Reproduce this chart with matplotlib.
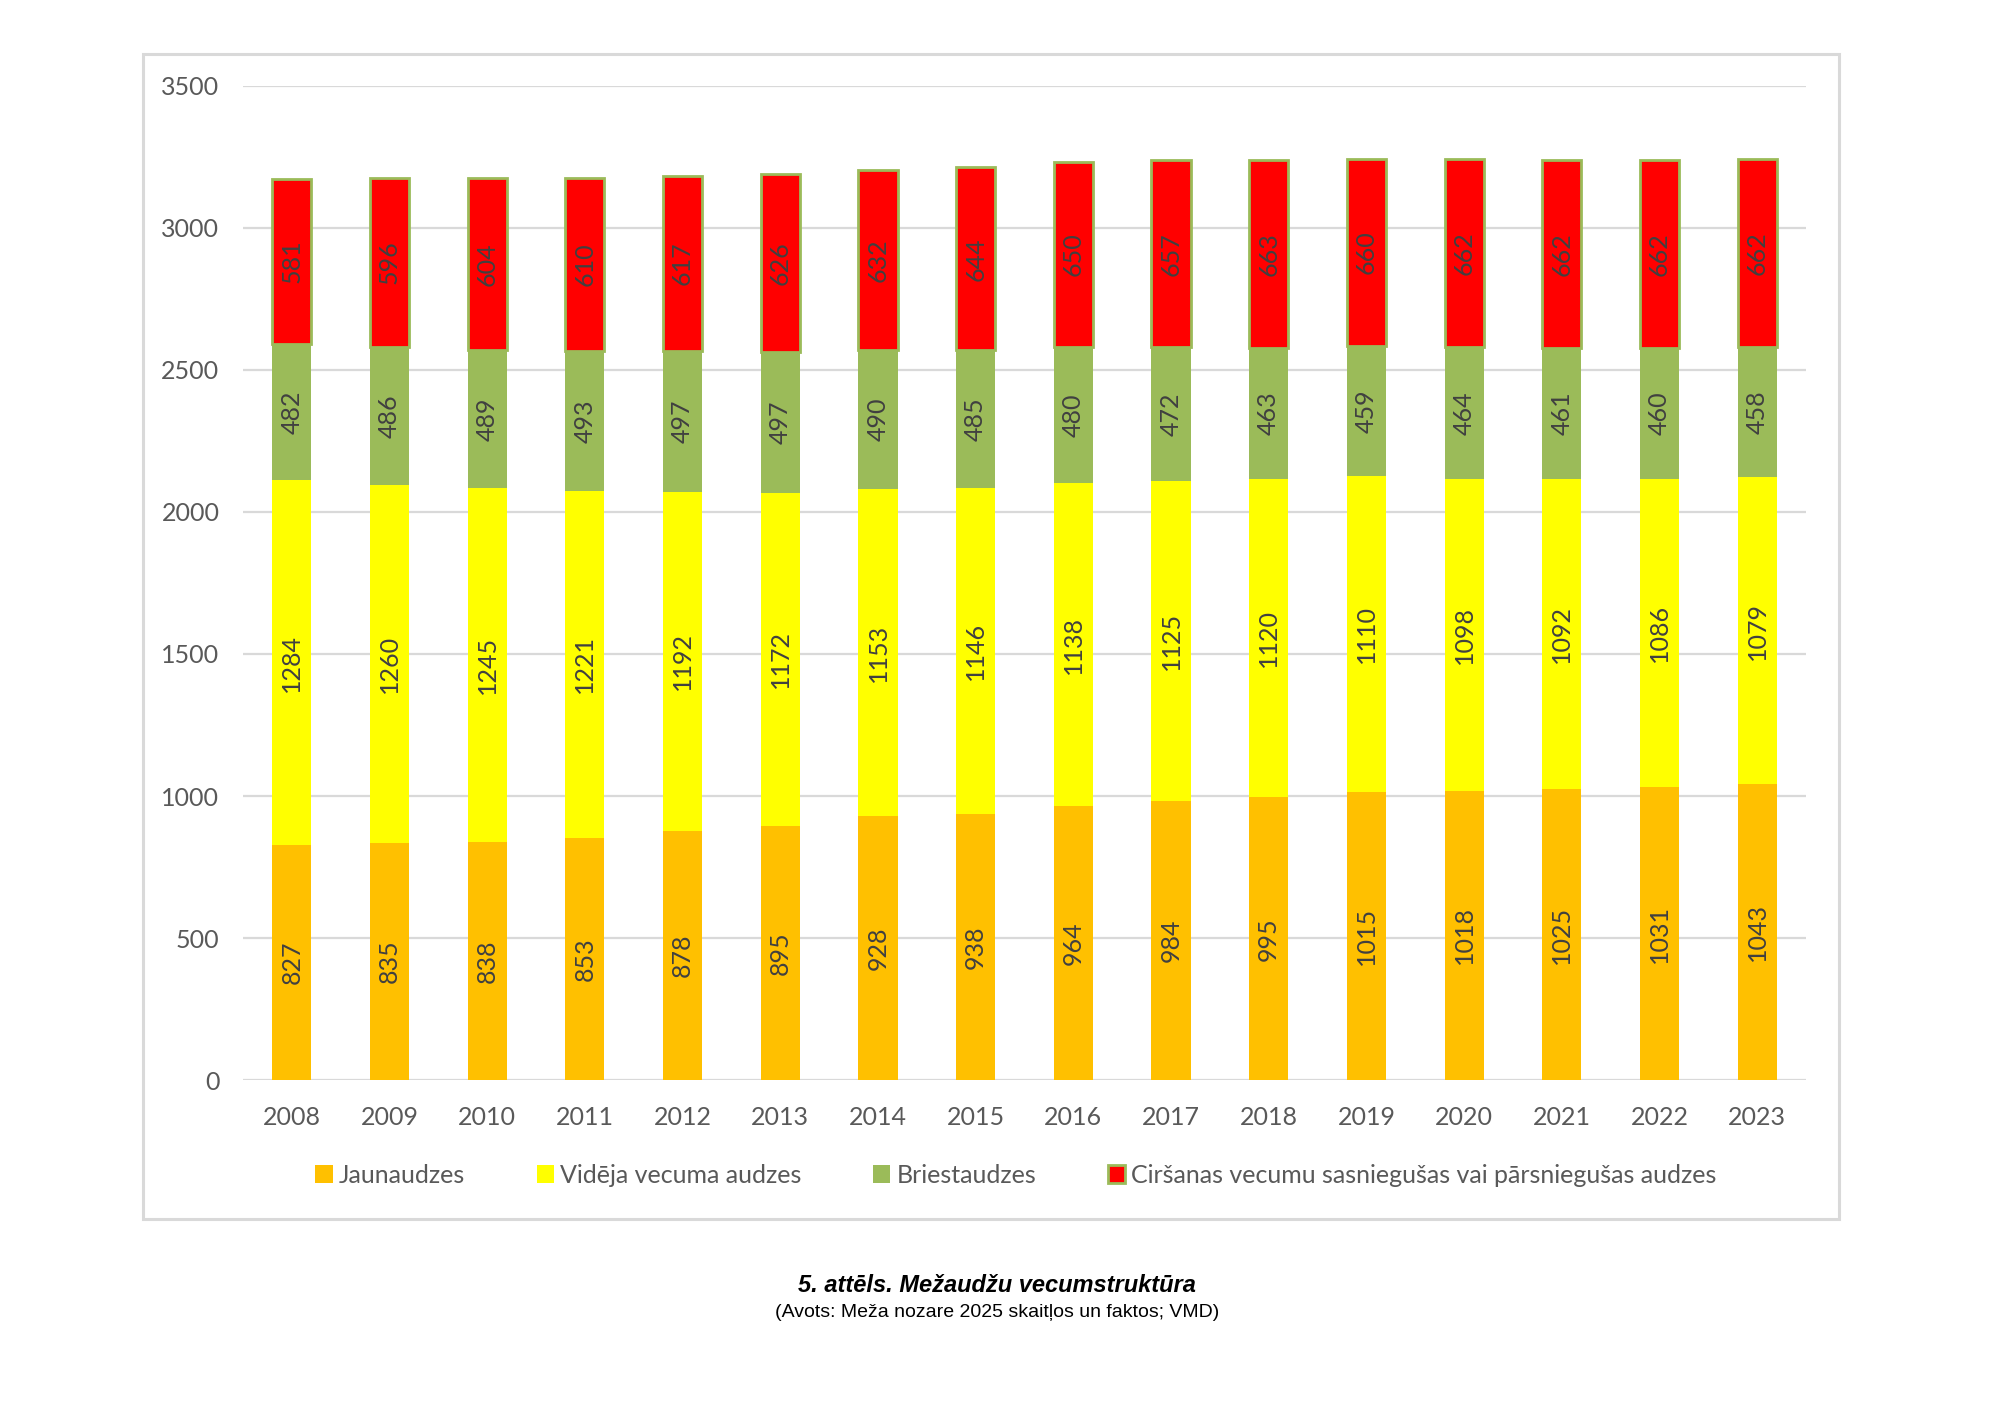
import matplotlib
matplotlib.use("Agg")
import matplotlib.pyplot as plt
from matplotlib.patches import Rectangle
import numpy as np

years = ["2008", "2009", "2010", "2011", "2012", "2013", "2014", "2015",
         "2016", "2017", "2018", "2019", "2020", "2021", "2022", "2023"]
jaun = [827, 835, 838, 853, 878, 895, 928, 938, 964, 984, 995, 1015, 1018, 1025, 1031, 1043]
videja = [1284, 1260, 1245, 1221, 1192, 1172, 1153, 1146, 1138, 1125, 1120, 1110, 1098, 1092, 1086, 1079]
briest = [482, 486, 489, 493, 497, 497, 490, 485, 480, 472, 463, 459, 464, 461, 460, 458]
cirs = [581, 596, 604, 610, 617, 626, 632, 644, 650, 657, 663, 660, 662, 662, 662, 662]

names = ["Jaunaudzes", "Vidēja vecuma audzes", "Briestaudzes",
         "Ciršanas vecumu sasniegušas vai pārsniegušas audzes"]
colors = ["#FFC000", "#FFFF00", "#9BBB59", "#FF0000"]

plt.rcParams['font.family'] = ['Lato', 'DejaVu Sans']

fig = plt.figure(figsize=(20, 14.14), dpi=100)
ax = fig.add_axes([0.1215, 0.2362, 0.7815, 0.703])

x = np.arange(len(years))
bottom = np.zeros(len(years))
handles = []
for vals, name, col in zip([jaun, videja, briest, cirs], names, colors):
    vals = np.array(vals, dtype=float)
    if col == "#FF0000":
        bars = ax.bar(x, vals, 0.4, bottom=bottom, color=col, edgecolor="#9BBB59",
                      linewidth=2, label=name, zorder=3)
    else:
        bars = ax.bar(x, vals, 0.4, bottom=bottom, color=col, linewidth=0,
                      label=name, zorder=3)
    handles.append(bars)
    for xi, b, v in zip(x, bottom, vals):
        ax.text(xi, b + v / 2, "%d" % v, rotation=90, ha="center", va="center",
                fontsize=18, color="#404040", zorder=4)
    bottom += vals

ax.set_xlim(-0.5, len(years) - 0.5)
ax.set_ylim(0, 3500)
ax.set_yticks(np.arange(0, 3501, 500))
ax.set_xticks(x)
ax.set_xticklabels(years)
ax.grid(axis="y", color="#D9D9D9", linewidth=1.6, zorder=0)
ax.set_axisbelow(True)
for s in ax.spines.values():
    s.set_visible(False)
ax.tick_params(axis="both", length=0, labelsize=18, labelcolor="#595959")
ax.tick_params(axis="x", pad=19)
ax.tick_params(axis="y", pad=17)

leg = fig.legend(handles=handles, labels=names, loc="center", ncol=4,
                 bbox_to_anchor=(0.508, 0.169), frameon=False, fontsize=18,
                 handlelength=0.7, handleheight=0.7, handletextpad=0.25,
                 columnspacing=2.85)
for t in leg.get_texts():
    t.set_color("#595959")

# chart border
fig.patches.append(Rectangle((0.0715, 0.1379), 0.848, 0.8239, transform=fig.transFigure,
                             fill=False, edgecolor="#D9D9D9", linewidth=2.2))

fig.text(0.4987, 0.0906, "5. attēls. Mežaudžu vecumstruktūra", ha="center", va="center",
         fontsize=17, fontweight="bold", fontstyle="italic", family="Liberation Sans")
fig.text(0.4987, 0.0721, "(Avots: Meža nozare 2025 skaitļos un faktos; VMD)", ha="center",
         va="center", fontsize=14, family="Liberation Sans")

fig.savefig("out.png", dpi=100, facecolor="white")
